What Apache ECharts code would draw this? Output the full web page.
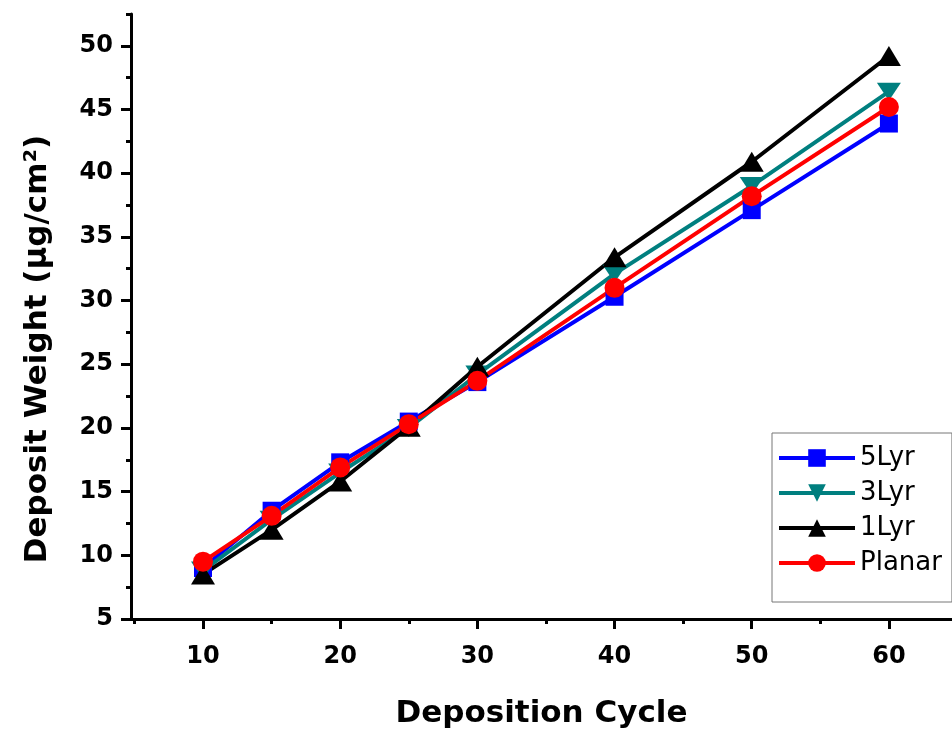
<!DOCTYPE html>
<html><head><meta charset="utf-8">
<script src="https://cdn.jsdelivr.net/npm/echarts@6/dist/echarts.min.js"></script>
<style>html,body{margin:0;padding:0;background:#fff}#c{width:952px;height:732px}</style>
</head><body><div id="c"></div>
<script>
const cycles = [10, 15, 20, 25, 30, 40, 50, 60];
const lyr5   = [9.0, 13.5, 17.3, 20.5, 23.6, 30.3, 37.1, 43.9];
const lyr3   = [8.8, 12.8, 16.5, 20.0, 24.2, 32.1, 39.0, 46.4];
const lyr1   = [8.5, 12.0, 15.8, 20.1, 24.8, 33.4, 40.9, 49.2];
const planar = [9.5, 13.1, 16.9, 20.3, 23.7, 31.0, 38.2, 45.2];
const seriesNames = ['5Lyr', '3Lyr', '1Lyr', 'Planar'];
const xMajorTicks = [10, 20, 30, 40, 50, 60];
const xMinorTicks = [5, 15, 25, 35, 45, 55];
const yMajorTicks = [5, 10, 15, 20, 25, 30, 35, 40, 45, 50];
const yMinorTicks = [7.5, 12.5, 17.5, 22.5, 27.5, 32.5, 37.5, 42.5, 47.5, 52.5];
const xTitle = 'Deposition Cycle';
const yTitle = 'Deposit Weight (μg/cm²)';

const FONT = 'DejaVu Sans';
const pair = arr => cycles.map((c, i) => [c, arr[i]]);
const XMIN = 4.75, XMAX = 64.6, YMIN = 5, YMAX = 52.5;

function mkSeries(name, values, color, symbol, size, rotate) {
  return {
    name, type: 'line', data: pair(values), xAxisIndex: 0, yAxisIndex: 0,
    symbol, symbolSize: size, symbolRotate: rotate || 0,
    lineStyle: { color, width: 4 },
    itemStyle: { color, borderWidth: 0 },
    emphasis: { disabled: true }, animation: false, z: 3
  };
}

const chart = echarts.init(document.getElementById('c'), null, { renderer: 'canvas' });
chart.setOption({
  animation: false,
  backgroundColor: '#fff',
  grid: { left: 131, top: 14, right: 0, bottom: 113, containLabel: false, outerBoundsMode: 'none' },
  xAxis: [
    {
      type: 'value', min: XMIN, max: XMAX, position: 'bottom',
      axisLine: { show: true, onZero: false, lineStyle: { color: '#000', width: 3 } },
      axisTick: { show: true, customValues: xMajorTicks, length: 10, lineStyle: { color: '#000', width: 3 } },
      axisLabel: { customValues: xMajorTicks, margin: 26, fontSize: 24, fontWeight: 'bold', fontFamily: FONT, color: '#000' },
      splitLine: { show: false },
      name: xTitle, nameLocation: 'middle', nameGap: 79,
      nameTextStyle: { fontSize: 31, fontWeight: 'bold', fontFamily: FONT, color: '#000' }
    },
    {
      type: 'value', min: XMIN, max: XMAX, position: 'bottom', offset: 0,
      axisLine: { show: false, onZero: false },
      axisTick: { show: true, customValues: xMinorTicks, length: 5, lineStyle: { color: '#000', width: 3 } },
      axisLabel: { show: false },
      splitLine: { show: false }
    }
  ],
  yAxis: [
    {
      type: 'value', min: YMIN, max: YMAX, position: 'left',
      axisLine: { show: true, onZero: false, lineStyle: { color: '#000', width: 3 } },
      axisTick: { show: true, customValues: yMajorTicks, length: 10, lineStyle: { color: '#000', width: 3 } },
      axisLabel: { customValues: yMajorTicks, margin: 18, fontSize: 24, fontWeight: 'bold', fontFamily: FONT, color: '#000' },
      splitLine: { show: false }
    },
    {
      type: 'value', min: YMIN, max: YMAX, position: 'left', offset: 0,
      axisLine: { show: false, onZero: false },
      axisTick: { show: true, customValues: yMinorTicks, length: 5, lineStyle: { color: '#000', width: 3 } },
      axisLabel: { show: false },
      splitLine: { show: false }
    }
  ],
  legend: {
    data: seriesNames,
    orient: 'vertical', left: 772, top: 433,
    itemWidth: 76, itemHeight: 22, itemGap: 9,
    padding: [12, 10, 26, 5],
    borderColor: '#777', borderWidth: 1, backgroundColor: '#fff',
    lineStyle: { width: 4 },
    textStyle: { fontSize: 26, fontFamily: FONT, color: '#000' },
    selectedMode: false
  },
  graphic: [{
    type: 'text', x: 38, y: 349, rotation: Math.PI / 2,
    style: { text: yTitle, font: 'bold 31px "DejaVu Sans"', fill: '#000', align: 'center', verticalAlign: 'middle' }
  }],
  series: [
    mkSeries(seriesNames[0], lyr5, '#0000ff', 'rect', 18),
    mkSeries(seriesNames[1], lyr3, '#007f7f', 'triangle', [24, 18], 180),
    mkSeries(seriesNames[2], lyr1, '#000000', 'triangle', [24, 20]),
    mkSeries(seriesNames[3], planar, '#ff0000', 'circle', 20)
  ]
});
</script>
</body></html>
